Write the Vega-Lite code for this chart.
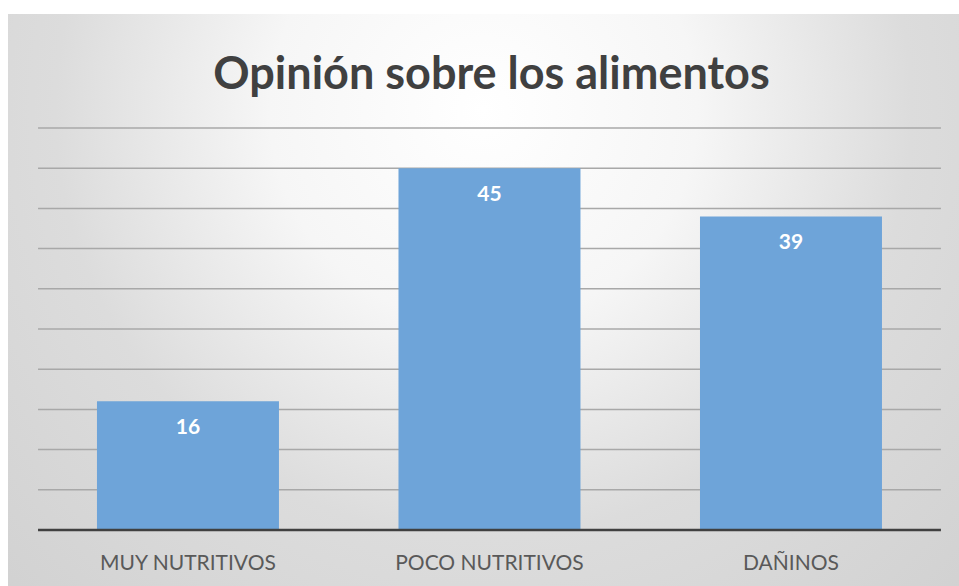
{
  "$schema": "https://vega.github.io/schema/vega-lite/v6.json",
  "width": 951,
  "height": 572,
  "autosize": {"type": "none"},
  "padding": {"left": 8, "top": 14, "right": 0, "bottom": 0},
  "background": "#ffffff",
  "title": {
    "text": "Opinión sobre los alimentos",
    "font": "Lato",
    "fontSize": 45,
    "fontWeight": "bold",
    "color": "#404040",
    "anchor": "middle",
    "baseline": "alphabetic",
    "offset": -120,
    "dx": 8
  },
  "config": {"view": {"stroke": "#c9c9c9"}},
  "layer": [
    {
      "data": {"values": [{}]},
      "mark": {
        "type": "rect",
        "fill": {
          "gradient": "radial",
          "x1": 0.5, "y1": 0.3, "r1": 0,
          "x2": 0.5, "y2": 0.3, "r2": 0.75,
          "stops": [
            {"offset": 0, "color": "#ffffff"},
            {"offset": 0.3, "color": "#f6f6f6"},
            {"offset": 0.6, "color": "#dcdcdc"},
            {"offset": 1, "color": "#d0d0d0"}
          ]
        }
      },
      "encoding": {}
    },
    {
      "data": {"values": [{"g": 5}, {"g": 10}, {"g": 15}, {"g": 20}, {"g": 25}, {"g": 30}, {"g": 35}, {"g": 40}, {"g": 45}, {"g": 50}]},
      "mark": {"type": "rule", "color": "#a8a8a8", "strokeWidth": 1.5},
      "encoding": {
        "y": {"field": "g", "type": "quantitative"},
        "x": {"datum": "MUY NUTRITIVOS", "type": "nominal", "bandPosition": -0.324},
        "x2": {"datum": "DAÑINOS", "bandPosition": 1.324}
      }
    },
    {
      "data": {"values": [
        {"cat": "MUY NUTRITIVOS", "v": 16},
        {"cat": "POCO NUTRITIVOS", "v": 45},
        {"cat": "DAÑINOS", "v": 39}
      ]},
      "layer": [
        {
          "mark": {"type": "bar", "color": "#6ea4d9"},
          "encoding": {
            "x": {"field": "cat", "type": "nominal", "sort": null,
                  "scale": {"domain": ["MUY NUTRITIVOS", "POCO NUTRITIVOS", "DAÑINOS"], "paddingInner": 0.3964, "paddingOuter": 0.2753, "align": 0.536},
                  "axis": {"orient": "bottom", "offset": -56, "zindex": 2, "domain": false, "ticks": false, "grid": false, "title": null, "labelAngle": 0,
                           "labelAlign": "center", "labelLimit": 0, "labelOverlap": false, "labelFont": "Lato", "labelFontSize": 21, "labelColor": "#595959", "labelBaseline": "alphabetic", "labelPadding": 39}},
            "y": {"field": "v", "type": "quantitative", "scale": {"domain": [-6.965, 64.18], "nice": false, "zero": false}, "axis": null},
            "y2": {"datum": 0}
          }
        },
        {
          "mark": {"type": "text", "color": "#ffffff", "font": "Lato", "fontSize": 21, "fontWeight": "bold", "baseline": "middle", "dy": 27},
          "encoding": {
            "x": {"field": "cat", "type": "nominal", "sort": null},
            "y": {"field": "v", "type": "quantitative"},
            "text": {"field": "v", "type": "quantitative"}
          }
        }
      ]
    },
    {
      "data": {"values": [{"g": 0}]},
      "mark": {"type": "rule", "color": "#404040", "strokeWidth": 2.5},
      "encoding": {
        "y": {"field": "g", "type": "quantitative"},
        "x": {"datum": "MUY NUTRITIVOS", "type": "nominal", "bandPosition": -0.324},
        "x2": {"datum": "DAÑINOS", "bandPosition": 1.324}
      }
    }
  ]
}
